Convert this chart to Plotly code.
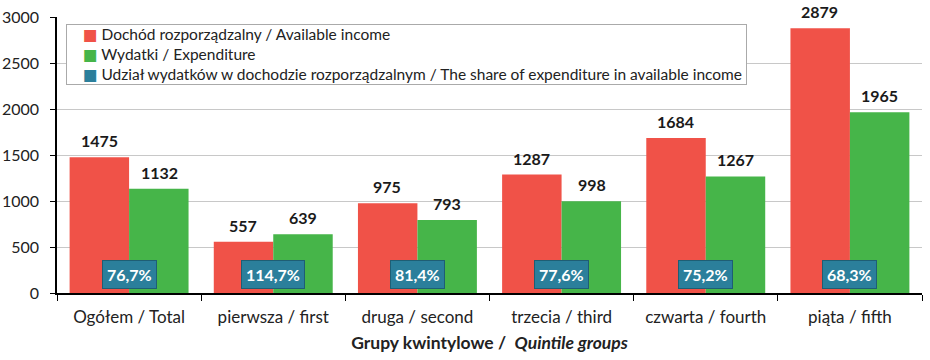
import plotly.graph_objects as go

categories = ["Ogółem / Total", "pierwsza / first", "druga / second",
              "trzecia / third", "czwarta / fourth", "piąta / fifth"]
income = [1475, 557, 975, 1287, 1684, 2879]
expenditure = [1132, 639, 793, 998, 1267, 1965]
share_labels = ["76,7%", "114,7%", "81,4%", "77,6%", "75,2%", "68,3%"]

names = ["Dochód rozporządzalny / Available income",
         "Wydatki / Expenditure",
         "Udział wydatków w dochodzie rozporządzalnym / The share of expenditure in available income"]

RED = "#F05248"
GREEN = "#46B549"
BLUE = "#2B7F9B"
FONT = "Lato"
colors = [RED, GREEN, BLUE]

fig = go.Figure()
fig.add_trace(go.Bar(x=categories, y=income, name=names[0], marker_color=RED,
                     marker_line_width=0, showlegend=False))
fig.add_trace(go.Bar(x=categories, y=expenditure, name=names[1], marker_color=GREEN,
                     marker_line_width=0, showlegend=False))

annotations = []
for c, v in zip(categories, income):
    annotations.append(dict(x=c, y=v, xref="x", yref="y", text=f"<b>{v}</b>",
                            showarrow=False, xshift=-30, yanchor="bottom", yshift=5,
                            font=dict(family=FONT, size=16, color="#1a1a1a")))
for c, v in zip(categories, expenditure):
    annotations.append(dict(x=c, y=v, xref="x", yref="y", text=f"<b>{v}</b>",
                            showarrow=False, xshift=30, yanchor="bottom", yshift=5,
                            font=dict(family=FONT, size=16, color="#1a1a1a")))
for c, s in zip(categories, share_labels):
    annotations.append(dict(x=c, y=205, xref="x", yref="y", text=f"<b>{s}</b>",
                            showarrow=False, yanchor="middle",
                            bgcolor=BLUE, bordercolor="#1E5E74", borderwidth=1,
                            borderpad=4,
                            font=dict(family=FONT, size=16, color="white")))

# legend box (drawn as one bordered annotation)
legend_lines = [f"&nbsp;&nbsp;&nbsp;&nbsp;<span style='color:{col};font-family:DejaVu Sans'>■</span> {n}"
                for col, n in zip(colors, names)]
annotations.append(dict(x=0.0104, y=0.975, xref="paper", yref="paper",
                        xanchor="left", yanchor="top", align="left",
                        text="<br>".join(legend_lines) + "&nbsp;",
                        showarrow=False, bgcolor="white", bordercolor="#AAAAAA",
                        borderwidth=1, borderpad=0,
                        font=dict(family=FONT, size=15.5, color="#222")))

fig.update_layout(
    width=930, height=360,
    margin=dict(l=57, r=8, t=17, b=67, autoexpand=False),
    plot_bgcolor="white", paper_bgcolor="white",
    barmode="group", bargap=0.175, bargroupgap=0,
    font=dict(family=FONT, size=16, color="#222"),
    annotations=annotations,
    showlegend=False,
)
fig.update_xaxes(showline=True, linecolor="black", linewidth=1.5, automargin=False,
                 ticks="outside", tickson="boundaries", ticklen=6, tickcolor="black",
                 ticklabelstandoff=8,
                 tickfont=dict(family=FONT, size=17, color="#222"),
                 title=dict(text="<b>Grupy kwintylowe /  <i>Quintile groups</i></b>",
                            font=dict(family=FONT, size=17.5, color="#222"), standoff=11))
fig.update_yaxes(range=[0, 3000], dtick=500, showline=True, linecolor="black",
                 linewidth=1.5, ticks="outside", ticklen=5, tickcolor="black",
                 automargin=False, ticklabelstandoff=8,
                 showgrid=True, gridcolor="#C8C8C8", gridwidth=1, zeroline=False,
                 tickfont=dict(family=FONT, size=16, color="#222"))

fig.write_html("out.html",
               config={"displayModeBar": False},
               post_script="document.body.style.margin='0px';document.body.style.overflow='hidden';")
